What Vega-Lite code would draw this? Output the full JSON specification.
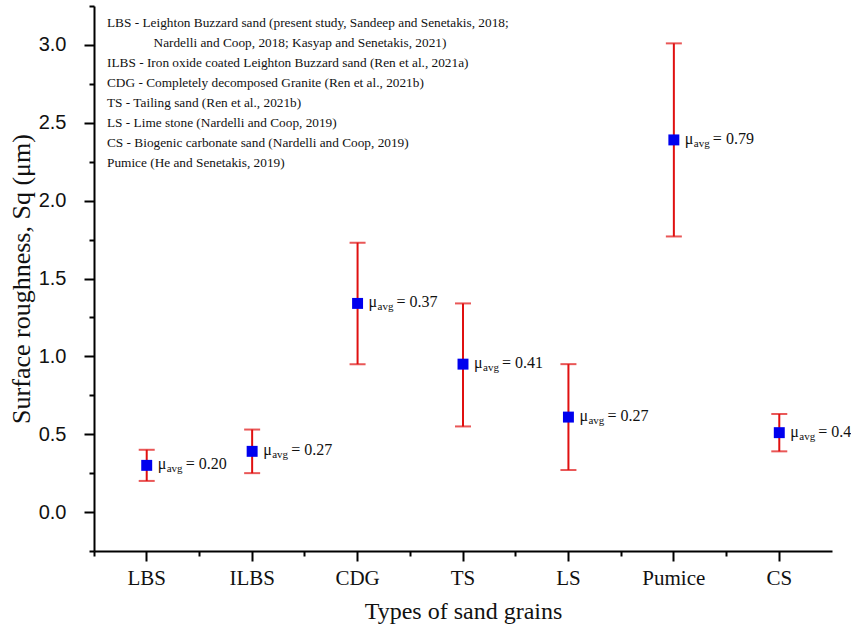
{
  "$schema": "https://vega.github.io/schema/vega-lite/v6.json",
  "autosize": {"type": "none"},
  "padding": {"left": 94, "top": 6, "right": 19, "bottom": 79},
  "width": 738,
  "height": 545,
  "background": "white",
  "config": {"view": {"stroke": null}},
  "title": {
    "text": [
      "LBS - Leighton Buzzard sand (present study, Sandeep and Senetakis, 2018;",
      "\u2060\u2003\u2003\u2003\u2002Nardelli and Coop, 2018; Kasyap and Senetakis, 2021)",
      "ILBS - Iron oxide coated Leighton Buzzard sand (Ren et al., 2021a)",
      "CDG - Completely decomposed Granite (Ren et al., 2021b)",
      "TS - Tailing sand (Ren et al., 2021b)",
      "LS - Lime stone (Nardelli and Coop, 2019)",
      "CS - Biogenic carbonate sand (Nardelli and Coop, 2019)",
      "Pumice (He and Senetakis, 2019)"
    ],
    "anchor": "start",
    "frame": "group",
    "orient": "top",
    "baseline": "top",
    "offset": -164,
    "dx": 13,
    "font": "Liberation Serif",
    "fontSize": 13.3,
    "fontWeight": "normal",
    "lineHeight": 20,
    "color": "#111111"
  },
  "data": {
    "values": [
      {"type": "LBS", "mean": 0.30, "lo": 0.20, "hi": 0.40, "mu": "= 0.20"},
      {"type": "ILBS", "mean": 0.39, "lo": 0.25, "hi": 0.53, "mu": "= 0.27"},
      {"type": "CDG", "mean": 1.34, "lo": 0.95, "hi": 1.73, "mu": "= 0.37"},
      {"type": "TS", "mean": 0.95, "lo": 0.55, "hi": 1.34, "mu": "= 0.41"},
      {"type": "LS", "mean": 0.61, "lo": 0.27, "hi": 0.95, "mu": "= 0.27"},
      {"type": "Pumice", "mean": 2.39, "lo": 1.77, "hi": 3.01, "mu": "= 0.79"},
      {"type": "CS", "mean": 0.51, "lo": 0.39, "hi": 0.63, "mu": "= 0.4"}
    ]
  },
  "resolve": {"axis": {"x": "independent", "y": "independent"}},
  "layer": [
    {
      "mark": {"type": "rule", "color": "#e01010", "strokeWidth": 2},
      "encoding": {
        "x": {
          "field": "type", "type": "nominal", "sort": null,
          "scale": {"type": "band", "paddingInner": 0, "paddingOuter": 0},
          "axis": {
            "orient": "bottom",
            "title": "Types of sand grains",
            "titleFont": "Liberation Serif", "titleFontSize": 24, "titleFontWeight": "normal", "titleColor": "#111111",
            "titlePadding": 11,
            "labelFont": "Liberation Serif", "labelFontSize": 21, "labelColor": "#111111", "labelAngle": 0,
            "labelPadding": 6,
            "domainColor": "#000000", "domainWidth": 2,
            "tickColor": "#000000", "tickWidth": 2, "tickSize": 10,
            "grid": false
          }
        },
        "y": {
          "field": "lo", "type": "quantitative",
          "scale": {"domain": [-0.25, 3.25], "nice": false, "zero": false},
          "axis": {
            "orient": "left",
            "title": "Surface roughness, Sq (μm)",
            "titleFont": "Liberation Serif", "titleFontSize": 26, "titleFontWeight": "normal", "titleColor": "#111111",
            "titlePadding": 4,
            "values": [0, 0.5, 1, 1.5, 2, 2.5, 3],
            "format": ".1f",
            "labelFont": "Liberation Sans", "labelFontSize": 20, "labelColor": "#111111",
            "labelPadding": 18,
            "domainColor": "#000000", "domainWidth": 2,
            "tickColor": "#000000", "tickWidth": 2, "tickSize": 10,
            "grid": false
          }
        },
        "y2": {"field": "hi"}
      }
    },
    {
      "mark": {"type": "tick", "color": "#e01010", "thickness": 2, "size": 16, "orient": "horizontal"},
      "encoding": {
        "x": {"field": "type", "type": "nominal", "sort": null,
          "axis": {"orient": "bottom", "bandPosition": 0, "labels": false, "title": null, "domain": false, "tickColor": "#000000", "tickWidth": 2, "tickSize": 5, "grid": false}},
        "y": {"field": "lo", "type": "quantitative",
          "axis": {"orient": "left", "values": [-0.25, 0.25, 0.75, 1.25, 1.75, 2.25, 2.75, 3.25], "labels": false, "title": null, "domain": false, "tickColor": "#000000", "tickWidth": 2, "tickSize": 5, "grid": false}}
      }
    },
    {
      "mark": {"type": "tick", "color": "#e01010", "thickness": 2, "size": 16, "orient": "horizontal"},
      "encoding": {
        "x": {"field": "type", "type": "nominal", "sort": null, "axis": null},
        "y": {"field": "hi", "type": "quantitative", "axis": null}
      }
    },
    {
      "mark": {"type": "point", "shape": "square", "filled": true, "color": "#0000ee", "size": 120, "opacity": 1},
      "encoding": {
        "x": {"field": "type", "type": "nominal", "sort": null, "axis": null},
        "y": {"field": "mean", "type": "quantitative", "axis": null}
      }
    },
    {
      "mark": {"type": "text", "text": "μ", "align": "left", "baseline": "middle", "dx": 11, "dy": -1, "font": "Liberation Serif", "fontSize": 16, "color": "#111111"},
      "encoding": {
        "x": {"field": "type", "type": "nominal", "sort": null, "axis": null},
        "y": {"field": "mean", "type": "quantitative", "axis": null}
      }
    },
    {
      "mark": {"type": "text", "text": "avg", "align": "left", "baseline": "middle", "dx": 20, "dy": 4, "font": "Liberation Serif", "fontSize": 11, "color": "#111111"},
      "encoding": {
        "x": {"field": "type", "type": "nominal", "sort": null, "axis": null},
        "y": {"field": "mean", "type": "quantitative", "axis": null}
      }
    },
    {
      "mark": {"type": "text", "align": "left", "baseline": "middle", "dx": 39, "dy": -1, "font": "Liberation Serif", "fontSize": 16, "color": "#111111"},
      "encoding": {
        "x": {"field": "type", "type": "nominal", "sort": null, "axis": null},
        "y": {"field": "mean", "type": "quantitative", "axis": null},
        "text": {"field": "mu"}
      }
    }
  ]
}
